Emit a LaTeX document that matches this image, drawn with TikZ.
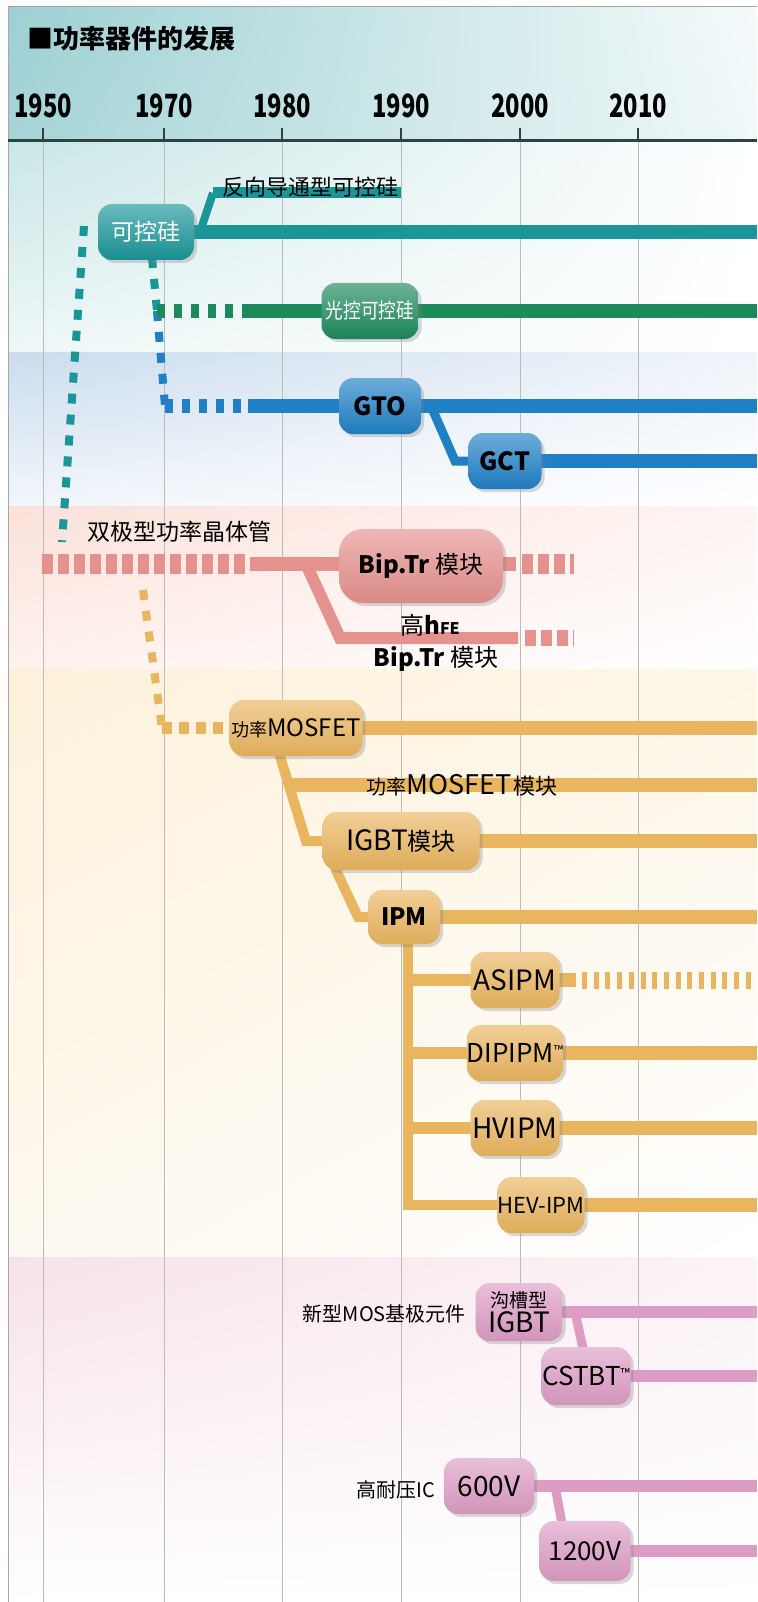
\documentclass[tikz,border=0pt]{standalone}
\usepackage{fontspec}
\setmainfont{Noto Sans CJK SC}
\newfontfamily\yearfont{Noto Sans CJK SC}[FakeStretch=0.74]
\newfontfamily\narrowfont{Noto Sans CJK SC}[FakeStretch=0.84]
\usetikzlibrary{shadows, shadings, positioning}

\definecolor{tealc}{HTML}{1A9699}
\definecolor{greenc}{HTML}{1C8A5B}
\definecolor{bluec}{HTML}{1F80C6}
\definecolor{salmonc}{HTML}{E5918D}
\definecolor{goldc}{HTML}{EAB55F}
\definecolor{pinkc}{HTML}{DD9CC4}
\definecolor{hdrc}{HTML}{9DD0D3}
\definecolor{bandteal}{HTML}{C9E6E6}
\definecolor{bandblue}{HTML}{CBDCEE}
\definecolor{bandpink}{HTML}{FCE1DA}
\definecolor{bandcream}{HTML}{FDF1DA}
\definecolor{bandlav}{HTML}{F6E2EA}
\definecolor{gridc}{HTML}{BBBBBB}
\definecolor{axisc}{HTML}{2E4444}

\pgfdeclarelayer{bands}
\pgfdeclarelayer{wires}
\pgfsetlayers{bands,wires,main}

\newcommand{\fs}[1]{\fontsize{#1}{#1}\selectfont}

\begin{document}
\begin{tikzpicture}[
    x=1pt, y=-1pt,
    pill/.style={
        rectangle,
        rounded corners=14pt,
        minimum height=56pt,
        inner sep=0pt,
        top color=#1!65!white,
        bottom color=#1!95!black,
        drop shadow={shadow xshift=3pt, shadow yshift=-3pt, opacity=0.3}
    },
    wire/.style={draw=#1, line width=14pt},
    dots/.style={draw=#1, line width=8pt, dash pattern=on 10pt off 11pt},
    year/.style={font=\yearfont\bfseries\fs{32}},
    lbl/.style={inner sep=0pt}
]
\useasboundingbox (0,0) rectangle (757,1602);
\coordinate (edge) at (757,0);
\coordinate (bottom) at (0,1602);

% Background bands
\begin{pgfonlayer}{bands}
\fill[white] (0,0) rectangle (757,1602);
\shade[upper left=hdrc, lower left=hdrc!90!white, upper right=hdrc!10!white, lower right=hdrc!15!white] (8,7) rectangle (757,141);
\shade[upper left=bandteal, lower left=bandteal!30!white, upper right=white, lower right=white] (8,141) rectangle (757,352);
\shade[upper left=bandblue, lower left=bandblue!25!white, upper right=bandblue!30!white, lower right=white] (8,352) rectangle (757,506);
\shade[upper left=bandpink, lower left=bandpink!45!white, upper right=bandpink!35!white, lower right=white] (8,506) rectangle (757,669);
\shade[upper left=bandcream, lower left=bandcream!40!white, upper right=bandcream!60!white, lower right=white] (8,669) rectangle (757,1257);
\shade[upper left=bandlav, lower left=white, upper right=bandlav!40!white, lower right=white] (8,1257) rectangle (757,1602);
\draw[gray!70, line width=1pt] (8,1602) -- (8,7) -- (757,7);
\end{pgfonlayer}

% Title and time axis
\node[anchor=west, font=\bfseries\fs{26}] (title) at (24,39) {■功率器件的发展};
\foreach \yr/\x in {1950/43, 1970/164, 1980/282, 1990/401, 2000/520, 2010/638} {
    \node[year] (y\yr) at (\x,106) {\yr};
    \coordinate (t\yr) at (\x,141);
    \begin{pgfonlayer}{bands}
    \draw[gridc, line width=0.8pt] (t\yr) -- (t\yr |- bottom);
    \draw[axisc, line width=2pt] (t\yr) -- ++(0,-13);
    \end{pgfonlayer}
}
\begin{pgfonlayer}{bands}
\draw[axisc, line width=3pt] (8,141) -- (757,141);
\end{pgfonlayer}

% Thyristors
\node[pill=tealc, minimum width=96pt, text=white, font=\fs{23}] (scr) at (146,232) {可控硅};
\node[lbl, anchor=west, font=\fs{22}] (rcscr) at (222,187) {反向导通型可控硅};
\node[pill=greenc, minimum width=97pt, text=white, font=\narrowfont\fs{21}] (lscr) at (370,311) {光控可控硅};
\node[pill=bluec, minimum width=82pt, font=\bfseries\fs{25}] (gto) at (380,406) {GTO};
\node[pill=bluec, minimum width=73pt, font=\bfseries\fs{25}] (gct) at (505,461) {GCT};

% Bipolar transistors
\node[lbl, anchor=west, font=\fs{23}] (bjt) at (87,532) {双极型功率晶体管};
\node[pill=salmonc, minimum width=164pt, minimum height=74pt, rounded corners=24pt, font=\fs{24}] (bip) at (421,566) {\textbf{Bip.Tr} 模块};
\node[lbl, font=\fs{24}] (hfe) at (430,625) {高\textbf{h{\fs{16}FE}}};
\node[lbl, font=\fs{24}] (hfebip) at (436,659) {\textbf{Bip.Tr} 模块};

% MOS devices
\node[pill=goldc, minimum width=133pt] (mos) at (296,728) {{\fs{18}功率}{\fs{24}MOSFET}};
\node[lbl] (mosmod) at (462,785) {{\fs{20}功率}{\fs{27}MOSFET} {\fs{22}模块}};
\node[pill=goldc, minimum width=157pt, minimum height=58pt] (igbt) at (401,841) {{\fs{28}IGBT}{\fs{24}模块}};
\node[pill=goldc, minimum width=72pt, minimum height=54pt, font=\bfseries\fs{24}] (ipm) at (404,917) {IPM};
\node[pill=goldc, minimum width=89pt, font=\fs{28}] (asipm) at (515,980) {ASIPM};
\node[pill=goldc, minimum width=89pt, font=\fs{26}] (dipipm) at (515,1053) {DIPIPM\raisebox{7pt}{\fs{13}™}};
\node[pill=goldc, minimum width=89pt, font=\fs{28}] (hvipm) at (515,1128) {HVIPM};
\node[pill=goldc, minimum width=87pt, font=\fs{22}] (hevipm) at (541,1205) {HEV-IPM};

% New MOS-based devices
\node[lbl, anchor=east, font=\fs{20}] (newmos) at (466,1314) {新型MOS基极元件};
\node[pill=pinkc, minimum width=87pt, minimum height=58pt, align=center, font=\fs{24}] (trench) at (519,1312) {{\fs{19}沟槽型}\\[1pt]{\fs{28}IGBT}};
\node[pill=pinkc, minimum width=89pt, minimum height=58pt, font=\fs{26}] (cstbt) at (586,1376) {CSTBT\raisebox{7pt}{\fs{13}™}};
\node[lbl, anchor=east, font=\fs{20}] (hvic) at (435,1490) {高耐压IC};
\node[pill=pinkc, minimum width=90pt, font=\fs{28}] (v600) at (489,1486) {600V};
\node[pill=pinkc, minimum width=91pt, minimum height=60pt, font=\fs{26}] (v1200) at (585,1551) {1200V};

% Connectors
\coordinate (rc0) at (200,232);
\coordinate (rc1) at (213,193);
\coordinate (rc2) at (401,193);
\coordinate (sd0) at (152,258);
\coordinate (sd1) at (157,311);
\coordinate (sd2) at (165,406);
\coordinate (g0) at (245,311);
\coordinate (b0) at (248,406);
\coordinate (gb) at (431,406);
\coordinate (gc) at (455,461);
\coordinate (td0) at (84,226);
\coordinate (td1) at (62,542);
\coordinate (p0) at (42,564);
\coordinate (p1) at (250,564);
\coordinate (p2) at (516,564);
\coordinate (p3) at (574,564);
\coordinate (pb0) at (306,564);
\coordinate (pb1) at (340,638);
\coordinate (pb2) at (518,638);
\coordinate (pb3) at (574,638);
\coordinate (yd0) at (143,590);
\coordinate (yd1) at (162,728);
\coordinate (yd2) at (224,728);
\coordinate (m0) at (278,750);
\coordinate (m1) at (306,841);
\coordinate (mm0) at (289,785);
\coordinate (i0) at (335,868);
\coordinate (i1) at (358,917);
\coordinate (v0) at (408,935);
\coordinate (v1) at (408,1205);
\coordinate (a0) at (576,980);
\coordinate (a1) at (582,980);
\coordinate (c0) at (575,1312);
\coordinate (c1) at (589,1376);
\coordinate (h0) at (555,1486);
\coordinate (h1) at (567,1551);

\begin{pgfonlayer}{wires}
\draw[wire=tealc] (scr.center) -- (scr.center -| edge);
\draw[wire=tealc, line width=8pt] (rc0) -- (rc1);
\draw[wire=tealc, line width=11pt] (rc1) -- (rc2);
\draw[dots=tealc] (td0) -- (td1);
\draw[dots=tealc] (sd0) -- (sd1);
\draw[dots=bluec] (sd1) -- (sd2);
\draw[wire=greenc, dash pattern=on 8pt off 9pt] (sd1) -- (g0);
\draw[wire=greenc] (g0) -- (lscr.center -| edge);
\draw[wire=bluec, dash pattern=on 8pt off 9pt] (sd2) -- (b0);
\draw[wire=bluec] (b0) -- (gto.center -| edge);
\draw[wire=bluec, line width=9pt] (gb) -- (gc) -- (gct.center);
\draw[wire=bluec] (gct.center) -- (gct.center -| edge);

\draw[wire=salmonc, line width=20pt, dash pattern=on 11pt off 5pt] (p0) -- (p1);
\draw[wire=salmonc] (p1) -- (p2);
\draw[wire=salmonc, line width=20pt, dash pattern=on 11pt off 5pt] ([xshift=6pt]p2) -- (p3);
\draw[wire=salmonc, line width=12pt] (pb0) -- (pb1) -- (pb2);
\draw[wire=salmonc, line width=16pt, dash pattern=on 11pt off 5pt] ([xshift=7pt]pb2) -- (pb3);

\draw[dots=goldc] (yd0) -- (yd1);
\draw[wire=goldc, line width=12pt, dash pattern=on 10pt off 7pt] (yd1) -- (yd2);
\draw[wire=goldc] (mos.center) -- (mos.center -| edge);
\draw[wire=goldc, line width=10pt] (m0) -- (m1) -- (igbt.center);
\draw[wire=goldc] (mm0) -- (mm0 -| edge);
\draw[wire=goldc] (igbt.center) -- (igbt.center -| edge);
\draw[wire=goldc, line width=10pt] (i0) -- (i1) -- (ipm.center);
\draw[wire=goldc] (ipm.center) -- (ipm.center -| edge);
\draw[wire=goldc, line width=10pt] (v0) -- (v1) -- (hevipm.center);
\draw[wire=goldc, line width=12pt] (v0 |- asipm.center) -- (asipm.center);
\draw[wire=goldc, line width=12pt] (v0 |- dipipm.center) -- (dipipm.center);
\draw[wire=goldc, line width=12pt] (v0 |- hvipm.center) -- (hvipm.center);
\draw[wire=goldc] (asipm.center) -- (a0);
\draw[wire=goldc, line width=17pt, dash pattern=on 5pt off 6.7pt] (a1) -- (a1 -| edge);
\draw[wire=goldc] (dipipm.center) -- (dipipm.center -| edge);
\draw[wire=goldc] (hvipm.center) -- (hvipm.center -| edge);
\draw[wire=goldc] (hevipm.center) -- (hevipm.center -| edge);

\draw[wire=pinkc, line width=12pt] (trench.center) -- (trench.center -| edge);
\draw[wire=pinkc, line width=9pt] (c0) -- (c1);
\draw[wire=pinkc, line width=12pt] (cstbt.center) -- (cstbt.center -| edge);
\draw[wire=pinkc, line width=12pt] (v600.center) -- (v600.center -| edge);
\draw[wire=pinkc, line width=9pt] (h0) -- (h1);
\draw[wire=pinkc, line width=12pt] (v1200.center) -- (v1200.center -| edge);
\end{pgfonlayer}

\end{tikzpicture}
\end{document}
